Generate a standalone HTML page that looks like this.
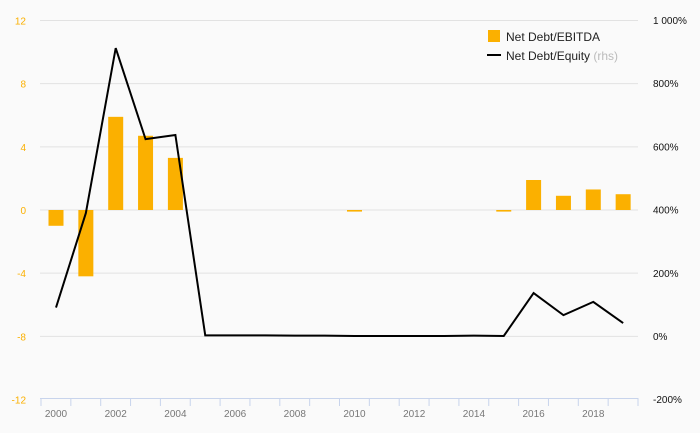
<!DOCTYPE html>
<html><head><meta charset="utf-8"><style>
body{margin:0;background:#fafafa;font-family:"Liberation Sans","DejaVu Sans",sans-serif}
svg{display:block}
</style></head><body>
<svg id="chart" width="700" height="433" viewBox="0 0 700 433" xmlns="http://www.w3.org/2000/svg">
<rect width="700" height="433" fill="#fafafa"/>
<g id="grid"></g><g id="bars"></g><g id="line"></g><g id="axes"></g>
<g>
<rect x="488" y="30" width="12" height="12" fill="#fbb000"/>
<text x="506" y="41" font-size="12" fill="#222">Net Debt/EBITDA</text>
<line x1="487" y1="55" x2="501" y2="55" stroke="#000" stroke-width="2"/>
<text x="506" y="60" font-size="12" fill="#222">Net Debt/Equity <tspan fill="#bbb">(rhs)</tspan></text>
</g>
</svg>
<script>
const years=[2000,2001,2002,2003,2004,2005,2006,2007,2008,2009,2010,2011,2012,2013,2014,2015,2016,2017,2018,2019];
const ebitda=[-1.0,-4.2,5.9,4.7,3.3,0,0,0,0,0,-0.1,0,0,0,0,-0.1,1.9,0.9,1.3,1.0];
const equity=[90,389,911,623,636,2,2,2,1,1,0,0,0,0,1,0,136,66,108,41];
const leftTicks=[12,8,4,0,-4,-8,-12];
const rightTicks=[1000,800,600,400,200,0,-200];
const rightLabels=["1 000%","800%","600%","400%","200%","0%","-200%"];
const NS="http://www.w3.org/2000/svg";
const yL=v=>210-v*(189.5/12);
const yR=v=>336-v*(63.2/200);
const x=i=>56+i*29.85;
function mk(tag,at,parent,txt){const e=document.createElementNS(NS,tag);for(const k in at)e.setAttribute(k,at[k]);if(txt!==undefined)e.textContent=txt;document.getElementById(parent).appendChild(e);return e;}
leftTicks.forEach(t=>{
 if(t!==-12){const g=mk('line',{x1:40,x2:638,y1:yL(t),y2:yL(t),stroke:'#e2e2e2','stroke-width':1},'grid');
 
 }
 const l=mk('text',{x:26,y:yL(t)+4,'font-size':10,fill:'#fbb000','text-anchor':'end'},'axes',String(t));
 
 
});
rightTicks.forEach((t,i)=>{
 const l=mk('text',{x:653,y:yR(t)+4,'font-size':10,fill:'#111'},'axes',rightLabels[i]);
 
 
});
const ax=mk('line',{x1:40,x2:638,y1:398.5,y2:398.5,stroke:'#c8d4ec','stroke-width':1},'axes');


for(let i=0;i<=years.length;i++){const tk=mk('line',{x1:x(i)-15,x2:x(i)-15,y1:398,y2:406,stroke:'#c8d4ec'},'axes');
 
 }
years.forEach((y,i)=>{if(y%2===0){const l=mk('text',{x:x(i),y:417,'font-size':10,fill:'#777','text-anchor':'middle'},'axes',String(y));
 
 }});
ebitda.forEach((v,i)=>{if(v===0)return;
 const y0=yL(0),y1=yL(v);
 const b=mk('rect',{x:x(i)-7.5,y:Math.min(y0,y1),width:15,height:Math.max(1,Math.abs(y1-y0)),fill:'#fbb000'},'bars');
 
 
});
const p=mk('polyline',{points:equity.map((v,i)=>x(i)+','+yR(v)).join(' '),fill:'none',stroke:'#000','stroke-width':2},'line');


</script>
</body></html>
